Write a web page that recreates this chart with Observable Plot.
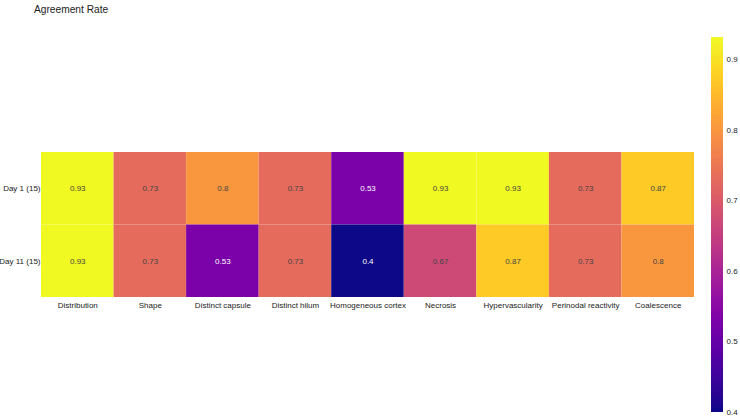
<!DOCTYPE html>
<html>
<head>
<meta charset="utf-8">
<script src="https://cdn.jsdelivr.net/npm/d3@7"></script>
<script src="https://cdn.jsdelivr.net/npm/@observablehq/plot@0.6"></script>
<style>
  html, body { margin: 0; padding: 0; background: #fff; }
  #wrap { position: relative; width: 740px; height: 418px; font-family: "Liberation Sans", Arial, sans-serif; }
  #title { position: absolute; left: 34px; top: 4px; font-size: 10.2px; color: #222; }
  #heat { position: absolute; left: 0; top: 0; }
  #bar { position: absolute; left: 700px; top: 0; }
  svg { overflow: visible; }
</style>
</head>
<body>
<div id="wrap">
  <div id="heat"></div>
  <div id="bar"></div>
  <div id="title">Agreement Rate</div>
</div>
<script>
const features = ["Distribution", "Shape", "Distinct capsule", "Distinct hilum", "Homogeneous cortex", "Necrosis", "Hypervascularity", "Perinodal reactivity", "Coalescence"];
const rows = ["Day 1 (15)", "Day 11 (15)"];
const day1 = [0.93, 0.73, 0.8, 0.73, 0.53, 0.93, 0.93, 0.73, 0.87];
const day11 = [0.93, 0.73, 0.53, 0.73, 0.4, 0.67, 0.87, 0.73, 0.8];
const colorTicks = [0.4, 0.5, 0.6, 0.7, 0.8, 0.9];

const series = [day1, day11];
const cells = [];
rows.forEach((r, i) => features.forEach((f, j) => cells.push({row: r, feature: f, value: series[i][j]})));

const allVals = cells.map(d => d.value);
const lo = d3.min(allVals), hi = d3.max(allVals);
const colorOpt = {type: "linear", scheme: "plasma", domain: [lo, hi]};
const fmt = d3.format(".2~f");

const heat = Plot.plot({
  width: 700,
  height: 418,
  marginLeft: 41,
  marginRight: 6,
  marginTop: 152,
  marginBottom: 121,
  style: {fontFamily: "Liberation Sans, Arial, sans-serif", fontSize: "8px", color: "#222", background: "transparent", overflow: "visible"},
  x: {domain: features, padding: 0, round: false, label: null, tickSize: 0, tickPadding: 5},
  y: {domain: rows, padding: 0, round: false, label: null, tickSize: 0, tickPadding: 1},
  color: colorOpt,
  marks: [
    Plot.cell(cells, {x: "feature", y: "row", fill: "value", inset: 0}),
    Plot.text(cells, {x: "feature", y: "row", text: d => fmt(d.value), fill: d => d.value < 0.6 ? "#ffffff" : "#444444", fontSize: 8})
  ]
});
document.getElementById("heat").appendChild(heat);

const nSteps = 200;
const step = (hi - lo) / nSteps;
const ramp = d3.range(nSteps).map(i => ({v0: lo + i * step, v1: lo + (i + 1) * step}));

const bar = Plot.plot({
  width: 40,
  height: 418,
  marginLeft: 11,
  marginRight: 17,
  marginTop: 38,
  marginBottom: 6,
  style: {fontFamily: "Liberation Sans, Arial, sans-serif", fontSize: "8px", color: "#222", background: "transparent", overflow: "visible"},
  x: {axis: null, domain: [0, 1]},
  y: {domain: [lo, hi], axis: "right", ticks: colorTicks, tickFormat: fmt, tickSize: 0, tickPadding: 3, label: null},
  color: colorOpt,
  marks: [
    Plot.rect(ramp, {x1: 0, x2: 1, y1: "v0", y2: d => d.v1 + step * 0.5, fill: d => (d.v0 + d.v1) / 2})
  ]
});
document.getElementById("bar").appendChild(bar);
</script>
</body>
</html>
